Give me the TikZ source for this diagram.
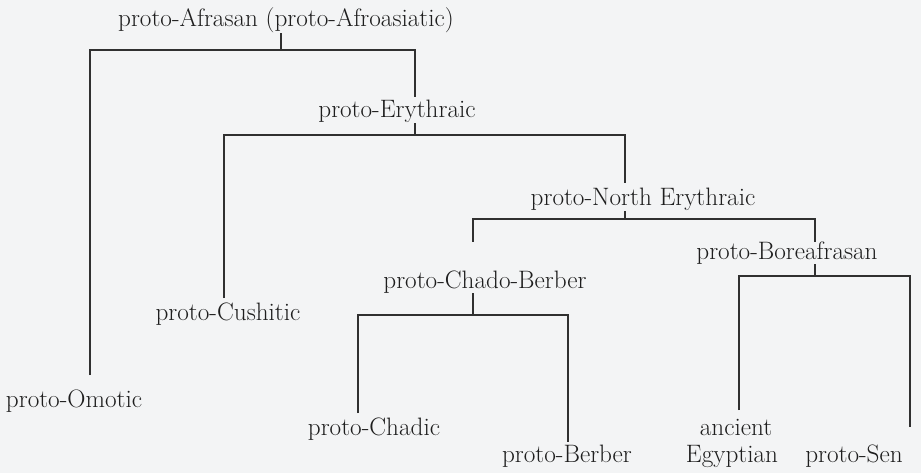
\documentclass[tikz,border=0pt]{standalone}
\usepackage{fontspec}
\definecolor{bg}{HTML}{F3F4F5}
\definecolor{ink}{HTML}{1E1E1E}
\definecolor{wire}{HTML}{303030}
\begin{document}
\begin{tikzpicture}[x=1pt,y=-1pt,
  lbl/.style={anchor=base,inner sep=0pt,text=ink,font=\fontsize{25.2}{30}\selectfont},
  br/.style={draw=wire,line width=1.2pt}]
\fill[bg] (0,0) rectangle (921,473);
\useasboundingbox (0,0) rectangle (921,473);
% labels
\node[lbl] (afr) at (286,27) {proto-Afrasan (proto-Afroasiatic)};
\node[lbl] (ery) at (397,118) {proto-Erythraic};
\node[lbl] (ner) at (643,206) {proto-North Erythraic};
\node[lbl] (bor) at (787,259) {proto-Boreafrasan};
\node[lbl] (cb) at (485,288) {proto-Chado-Berber};
\node[lbl] (cus) at (228,320) {proto-Cushitic};
\node[lbl] (omo) at (74,407) {proto-Omotic};
\node[lbl] (cha) at (374,435) {proto-Chadic};
\node[lbl] (ber) at (567,462) {proto-Berber};
\node[lbl] (egya) at (736,435) {ancient};
\node[lbl] (egyb) at (732,462) {Egyptian};
\node[lbl] (sen) at (854,462) {proto-Sen};
% junctions
\coordinate (j0) at (281,50);
\coordinate (j1) at (415,135);
\coordinate (j2) at (625,219);
\coordinate (j3) at (473,315);
\coordinate (j4) at (815,276);
% child attach points
\coordinate (omo-t) at (90,375);
\coordinate (ery-t) at (415,97);
\coordinate (cus-t) at (224,298);
\coordinate (ner-t) at (625,183);
\coordinate (cb-t) at (473,242);
\coordinate (bor-t) at (815,242);
\coordinate (cha-t) at (358,413);
\coordinate (ber-t) at (568,442);
\coordinate (egy-t) at (739,410);
\coordinate (sen-t) at (910,427);
% connectors
\draw[br] (afr.south -| j0) -- (j0);
\draw[br] (omo-t) |- (j0) -| (ery-t);
\draw[br] (ery.south -| j1) -- (j1);
\draw[br] (cus-t) |- (j1) -| (ner-t);
\draw[br] (ner.south -| j2) -- (j2);
\draw[br] (cb-t) |- (j2) -| (bor-t);
\draw[br] (cb.south -| j3) -- (j3);
\draw[br] (cha-t) |- (j3) -| (ber-t);
\draw[br] (bor.south -| j4) -- (j4);
\draw[br] (egy-t) |- (j4) -| (sen-t);
\end{tikzpicture}
\end{document}
